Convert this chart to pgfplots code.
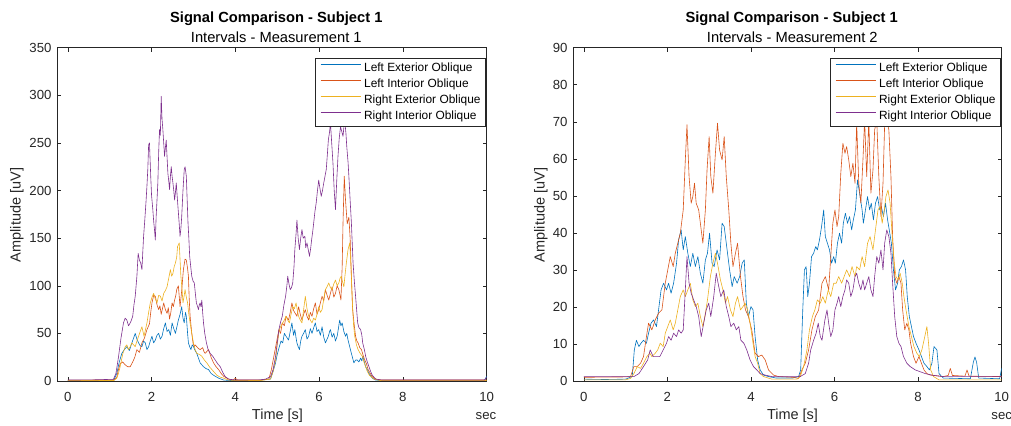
\documentclass[border=0pt]{standalone}
\usepackage{fontspec}
\setmainfont{Liberation Sans}
\usepackage{pgfplots}
\pgfplotsset{compat=1.18}

\definecolor{mblue}{rgb}{0,0.447,0.741}
\definecolor{morange}{rgb}{0.85,0.325,0.098}
\definecolor{myellow}{rgb}{0.929,0.694,0.125}
\definecolor{mpurple}{rgb}{0.494,0.184,0.556}
\definecolor{axgray}{rgb}{0.15,0.15,0.15}

\newcommand\tickfont{\fontsize{13.2bp}{15bp}\selectfont}
\newcommand\labfont{\fontsize{14.5bp}{17bp}\selectfont}
\newcommand\titfont{\fontsize{14.7bp}{17bp}\selectfont}

\pgfplotsset{
  matlab/.style={
    anchor=south west, scale only axis, height=333.3bp,
    xmin=-0.25, xmax=10, ymin=0,
    xtick={0,2,...,10},
    axis line style={axgray, line width=0.5bp},
    tick style={axgray, line width=0.5bp},
    major tick length=4bp,
    tick align=inside, tick pos=both,
    ticklabel style={font=\tickfont, text=axgray},
    /pgf/number format/assume math mode=true,
    xticklabel style={anchor=base, inner sep=0pt, yshift=-20.7bp},
    yticklabel style={anchor=east, inner sep=0pt, xshift=-5.6bp},
    every axis plot/.append style={line width=0.6bp, line join=round},
    legend style={at={(1,1)}, anchor=north east, xshift=-1.4bp, yshift=-10bp,
      draw=axgray, line width=0.5bp, fill=white, font=\fontsize{11.9bp}{13bp}\selectfont,
      inner xsep=4.5bp, inner ysep=4.4bp, row sep=4.5bp,
      nodes={inner sep=0pt, text height=9bp, text depth=2.5bp}},
    legend cell align=left,
    legend image code/.code={%
      \draw[#1, line width=1bp] (0bp,3.5bp) -- (40bp,3.5bp);
      \path (43.2bp,3.5bp);},
  }
}

\begin{document}
\begin{tikzpicture}
\path[use as bounding box] (0,0) rectangle (1011bp,426bp);

% ---------- Measurement 1 ----------
\begin{axis}[matlab, at={(57.3bp,45bp)}, width=429.4bp, ymax=350,
  ytick={0,50,...,350}]
\addplot[mblue] coordinates {
(0,0.5) (0.5,0.6) (1.0,0.5) (1.1,1) (1.17,8) (1.23,20) (1.29,29) (1.35,33) (1.41,36) (1.47,32) (1.53,40)
(1.57,45) (1.61,50) (1.65,44) (1.69,40) (1.73,37) (1.77,36) (1.81,42) (1.85,40) (1.89,33) (1.93,36)
(1.97,42) (2.01,47) (2.05,40) (2.09,43) (2.13,48) (2.17,50) (2.21,44) (2.25,47) (2.29,55) (2.33,61)
(2.37,52) (2.41,54) (2.45,48) (2.49,61) (2.53,55) (2.57,50) (2.61,58) (2.64,64) (2.68,70) (2.72,78)
(2.75,66) (2.78,61) (2.81,72) (2.83,68) (2.86,50) (2.88,40) (2.91,36) (2.94,33) (2.97,38) (3.00,36)
(3.04,32) (3.08,29) (3.12,24) (3.16,19) (3.20,17) (3.24,15) (3.30,13) (3.36,12) (3.42,8) (3.48,6)
(3.60,3) (3.72,1) (3.9,0.5) (4.5,0.5) (4.84,2) (4.90,10) (4.96,19) (5.00,28) (5.05,36) (5.09,42)
(5.13,40) (5.17,50) (5.21,47) (5.27,43) (5.31,52) (5.35,61) (5.39,48) (5.42,54) (5.45,45) (5.47,40)
(5.50,36) (5.53,33) (5.56,42) (5.59,47) (5.63,50) (5.67,54) (5.71,44) (5.75,47) (5.79,55) (5.83,50)
(5.87,56) (5.91,61) (5.95,52) (5.99,54) (6.03,48) (6.07,57) (6.11,46) (6.15,40) (6.19,44) (6.22,47)
(6.25,52) (6.27,54) (6.31,46) (6.35,50) (6.39,42) (6.43,47) (6.46,55) (6.49,64) (6.52,58) (6.55,61)
(6.59,52) (6.63,47) (6.66,50) (6.69,43) (6.73,36) (6.77,29) (6.80,24) (6.83,19) (6.87,22) (6.91,22)
(6.95,20) (6.99,24) (7.02,21) (7.04,26) (7.08,20) (7.11,15) (7.15,12) (7.19,8) (7.27,3) (7.35,1)
(7.5,0.5) (9.9,0.5) (9.95,1) (10,5)
};
\addlegendentry{Left Exterior Oblique}
\addplot[morange] coordinates {
(0,0.8) (0.6,1) (1.1,1) (1.17,4) (1.21,12) (1.25,18) (1.31,20) (1.37,17) (1.43,15) (1.49,15) (1.55,20)
(1.60,25) (1.65,33) (1.71,30) (1.77,40) (1.83,45) (1.89,54) (1.95,60) (1.98,72) (2.01,82) (2.05,90)
(2.09,89) (2.13,80) (2.17,75) (2.20,79) (2.23,70) (2.26,76) (2.29,82) (2.33,75) (2.37,71) (2.40,77)
(2.43,65) (2.46,72) (2.49,82) (2.52,78) (2.55,85) (2.58,90) (2.60,96) (2.64,100) (2.68,78) (2.72,95)
(2.76,117) (2.80,128) (2.83,127) (2.86,118) (2.88,110) (2.90,85) (2.92,68) (2.96,50) (2.99,40) (3.02,36)
(3.04,38) (3.08,36) (3.12,34) (3.16,33) (3.22,35) (3.25,31) (3.28,29) (3.32,31) (3.36,33) (3.39,29)
(3.42,25) (3.48,19) (3.54,15) (3.60,12) (3.66,8) (3.72,5) (3.84,2) (3.95,1) (4.0,3) (4.05,1) (4.6,1)
(4.80,2) (4.86,12) (4.92,26) (4.98,40) (5.04,54) (5.08,50) (5.12,61) (5.17,58) (5.21,68) (5.27,64)
(5.31,72) (5.35,82) (5.39,74) (5.43,71) (5.47,68) (5.51,78) (5.55,70) (5.59,64) (5.63,70) (5.67,75)
(5.71,68) (5.75,64) (5.79,72) (5.83,68) (5.87,76) (5.91,82) (5.95,70) (5.99,75) (6.03,82) (6.07,89)
(6.11,84) (6.15,96) (6.19,90) (6.23,85) (6.27,92) (6.31,99) (6.35,88) (6.39,92) (6.43,100) (6.47,96)
(6.50,90) (6.52,85) (6.55,120) (6.57,166) (6.60,215) (6.63,190) (6.67,165) (6.71,172) (6.74,150)
(6.77,110) (6.80,75) (6.84,58) (6.87,47) (6.90,42) (6.93,40) (6.97,35) (7.01,33) (7.05,27) (7.09,22)
(7.13,18) (7.17,12) (7.22,8) (7.27,4.5) (7.35,2) (7.5,1) (10,1)
};
\addlegendentry{Left Interior Oblique}
\addplot[myellow] coordinates {
(0,0.5) (1.1,0.5) (1.17,3) (1.21,8) (1.25,15) (1.31,28) (1.37,36) (1.41,38) (1.45,33) (1.49,36) (1.53,40)
(1.57,38) (1.61,36) (1.65,42) (1.69,47) (1.73,52) (1.77,57) (1.82,47) (1.86,55) (1.89,61) (1.93,72)
(1.97,82) (2.01,88) (2.05,92) (2.09,86) (2.13,82) (2.17,90) (2.21,89) (2.25,84) (2.29,92) (2.33,95)
(2.37,99) (2.41,108) (2.45,117) (2.48,110) (2.51,113) (2.54,120) (2.57,124) (2.60,130) (2.62,141)
(2.66,145) (2.70,110) (2.73,95) (2.75,82) (2.78,90) (2.80,96) (2.83,88) (2.86,82) (2.89,70) (2.92,61)
(2.96,50) (3.00,40) (3.04,33) (3.08,29) (3.14,28) (3.20,26) (3.26,22) (3.32,19) (3.38,15) (3.44,12)
(3.50,9) (3.56,6) (3.64,4) (3.72,3) (3.84,1) (4.0,0.5) (4.6,0.5) (4.84,2) (4.90,10) (4.96,22)
(5.00,38) (5.05,54) (5.09,58) (5.13,61) (5.17,64) (5.21,68) (5.25,64) (5.29,61) (5.33,70) (5.37,78)
(5.41,76) (5.45,82) (5.48,74) (5.51,68) (5.55,64) (5.59,61) (5.63,75) (5.67,89) (5.71,76) (5.75,68)
(5.79,64) (5.83,61) (5.87,66) (5.91,64) (5.95,70) (5.99,78) (6.03,72) (6.07,75) (6.11,86) (6.15,96)
(6.19,99) (6.23,103) (6.27,98) (6.31,96) (6.35,102) (6.39,106) (6.43,100) (6.47,103) (6.50,108)
(6.53,110) (6.56,104) (6.59,99) (6.62,112) (6.65,124) (6.69,138) (6.73,145) (6.76,120) (6.79,85)
(6.82,60) (6.85,47) (6.89,38) (6.93,33) (6.98,29) (7.03,26) (7.07,20) (7.11,15) (7.15,10) (7.20,6)
(7.31,2) (7.45,0.5) (10,0.5)
};
\addlegendentry{Right Exterior Oblique}
\addplot[mpurple] coordinates {
(0,1) (0.6,1.2) (1.09,1.8) (1.15,8) (1.21,25) (1.27,45) (1.33,61) (1.37,66) (1.41,64) (1.45,58) (1.49,61)
(1.52,64) (1.55,68) (1.58,80) (1.61,89) (1.65,110) (1.68,134) (1.71,127) (1.74,124) (1.77,117) (1.79,135)
(1.81,152) (1.84,170) (1.87,190) (1.89,205) (1.91,222) (1.93,248) (1.95,250) (1.98,215) (2.00,195)
(2.03,180) (2.05,168) (2.07,159) (2.09,148) (2.11,173) (2.13,190) (2.15,208) (2.17,240) (2.19,264)
(2.21,258) (2.23,299) (2.25,275) (2.27,264) (2.29,250) (2.31,236) (2.33,245) (2.35,253) (2.37,235)
(2.39,218) (2.41,210) (2.43,201) (2.45,215) (2.47,225) (2.49,215) (2.51,208) (2.53,200) (2.55,190)
(2.57,198) (2.59,208) (2.61,195) (2.63,183) (2.66,165) (2.68,152) (2.70,160) (2.72,173) (2.75,200)
(2.78,222) (2.80,225) (2.83,215) (2.85,190) (2.87,166) (2.89,150) (2.91,131) (2.94,118) (2.96,110)
(2.99,105) (3.02,103) (3.05,90) (3.07,82) (3.10,78) (3.12,75) (3.14,80) (3.16,82) (3.18,78) (3.20,85)
(3.22,72) (3.24,61) (3.27,50) (3.31,40) (3.35,33) (3.40,29) (3.46,26) (3.52,22) (3.58,18) (3.64,15)
(3.70,9) (3.76,4.5) (3.84,2) (4.0,1) (4.6,1.2) (4.72,2) (4.84,4.5) (4.90,12) (4.96,26) (5.00,40)
(5.04,54) (5.08,62) (5.12,68) (5.16,80) (5.20,89) (5.23,100) (5.25,110) (5.28,102) (5.31,96) (5.34,98)
(5.37,103) (5.40,120) (5.42,138) (5.45,155) (5.47,169) (5.50,150) (5.53,138) (5.56,150) (5.59,159)
(5.62,150) (5.66,152) (5.68,140) (5.71,145) (5.74,138) (5.77,131) (5.80,140) (5.82,148) (5.85,158)
(5.87,166) (5.90,178) (5.93,187) (5.96,200) (5.99,211) (6.02,202) (6.05,194) (6.08,200) (6.11,208)
(6.14,215) (6.17,222) (6.20,240) (6.22,253) (6.25,262) (6.27,271) (6.30,250) (6.33,229) (6.36,200)
(6.39,180) (6.42,210) (6.45,236) (6.48,255) (6.51,267) (6.54,262) (6.57,257) (6.59,266) (6.61,274)
(6.64,260) (6.66,246) (6.69,230) (6.71,215) (6.74,190) (6.77,166) (6.79,145) (6.81,124) (6.84,105)
(6.87,89) (6.90,72) (6.92,61) (6.95,56) (6.99,54) (7.02,48) (7.04,40) (7.08,33) (7.11,26) (7.15,20)
(7.19,15) (7.23,10) (7.27,6) (7.35,2) (7.5,1) (9.95,1) (10,4)
};
\addlegendentry{Right Interior Oblique}
\end{axis}

% ---------- Measurement 2 ----------
\begin{axis}[matlab, at={(573.3bp,45bp)}, width=428.4bp, ymax=90,
  ytick={0,10,...,90}]
\addplot[mblue] coordinates {
(0,0.5) (0.5,0.4) (1.0,0.5) (1.16,1.2) (1.21,8.4) (1.26,11) (1.32,9.3) (1.37,10.2) (1.43,11) (1.50,10.2)
(1.55,12.9) (1.61,15.6) (1.67,16.5) (1.74,14.7) (1.79,19.2) (1.85,24.6) (1.91,26.4) (1.98,24.6)
(2.03,26.4) (2.09,23.7) (2.15,26.4) (2.22,31.8) (2.27,38.1) (2.33,40.8) (2.38,35.4) (2.43,39)
(2.49,34.5) (2.55,30.9) (2.61,34.5) (2.67,30.9) (2.73,33.6) (2.79,29.1) (2.85,26.4) (2.91,32.7)
(2.96,34.5) (3.01,39.9) (3.07,31.8) (3.12,30.9) (3.19,35.4) (3.25,32.7) (3.31,42.6) (3.36,41.7)
(3.43,35.4) (3.49,30) (3.55,25.5) (3.60,28.2) (3.67,26.4) (3.73,28.2) (3.79,31.8) (3.84,32.7)
(3.89,21) (3.94,17.4) (4.00,20.1) (4.05,19.2) (4.10,12) (4.16,5.7) (4.22,3) (4.30,1.6) (4.42,1.2)
(4.6,0.8) (5.0,0.8) (5.14,1.2) (5.19,3) (5.24,19.2) (5.28,30) (5.32,30.9) (5.36,22.8) (5.40,26.4)
(5.45,33.6) (5.50,34.5) (5.55,36.3) (5.59,35.4) (5.64,38.1) (5.69,41.7) (5.74,46.2) (5.78,39)
(5.83,37.2) (5.88,35.4) (5.93,31.8) (5.98,33.6) (6.02,31.8) (6.07,37.2) (6.12,39.9) (6.17,37.2)
(6.21,42.6) (6.26,45.3) (6.31,42.6) (6.36,44.4) (6.41,40.8) (6.45,43.5) (6.50,46.2) (6.55,54.3)
(6.60,50.7) (6.66,46.2) (6.69,42.6) (6.74,46.2) (6.79,49.8) (6.84,46.2) (6.88,48) (6.93,43.5)
(6.98,48) (7.03,49.8) (7.08,46.2) (7.12,47.1) (7.17,44.4) (7.22,48) (7.27,43.5) (7.31,40.8)
(7.36,37.2) (7.41,30) (7.46,24.6) (7.51,26.4) (7.55,30) (7.60,30.9) (7.65,32.7) (7.70,30)
(7.74,22.8) (7.79,17.4) (7.84,14.7) (7.89,12) (7.95,10.2) (8.02,8.4) (8.08,6.6) (8.14,4.8)
(8.21,3.9) (8.27,3) (8.33,4.8) (8.38,9.3) (8.45,8.4) (8.50,2) (8.6,0.8) (9.25,0.6) (9.32,5)
(9.36,6.5) (9.40,5) (9.45,0.8) (9.95,0.6) (10,3.5)
};
\addlegendentry{Left Exterior Oblique}
\addplot[morange] coordinates {
(0,1) (1.0,1.1) (1.12,1.2) (1.20,3.9) (1.28,3.9) (1.36,4.8) (1.43,6.6) (1.50,12) (1.55,15.6)
(1.63,13.8) (1.71,16.5) (1.79,18.3) (1.87,19.2) (1.95,26.4) (2.01,30) (2.07,33.6) (2.14,30.9)
(2.19,34.5) (2.25,37.2) (2.31,39.9) (2.38,46.2) (2.43,59.7) (2.47,69.2) (2.52,55.2) (2.57,48)
(2.61,49.8) (2.65,53.4) (2.69,48) (2.75,46.2) (2.81,40.8) (2.85,37.2) (2.91,46.2) (2.95,57)
(3.00,66) (3.04,55.2) (3.09,50.7) (3.15,61.5) (3.20,69.6) (3.25,62.4) (3.31,59.7) (3.36,66)
(3.41,55.2) (3.47,46.2) (3.52,37.2) (3.57,30.9) (3.63,34.5) (3.68,37.2) (3.75,28.2) (3.81,22.8)
(3.87,19.2) (3.94,17.4) (4.02,13.8) (4.10,7.5) (4.18,6.6) (4.26,7) (4.34,5.7) (4.42,3) (4.54,1.6)
(4.66,1.2) (5.0,1) (5.14,0.7) (5.22,3) (5.30,4.8) (5.38,8.4) (5.46,13.8) (5.54,17.4) (5.62,19.2)
(5.70,26.4) (5.78,28.2) (5.86,24.6) (5.91,33.6) (5.96,42.6) (6.01,46.2) (6.06,41.7) (6.10,44.4)
(6.15,56.1) (6.20,64.2) (6.25,61.5) (6.29,63.3) (6.34,59.7) (6.39,55.2) (6.44,58.8) (6.49,53.4)
(6.53,69.6) (6.58,53.4) (6.63,48) (6.68,59.7) (6.72,70.5) (6.77,55.2) (6.82,70.5) (6.87,50.7)
(6.92,57) (6.96,67.8) (7.01,70.5) (7.06,55.2) (7.11,44.4) (7.16,53.4) (7.20,69.6) (7.25,70.5)
(7.30,67.8) (7.35,55.2) (7.39,39) (7.44,28.2) (7.49,26.4) (7.54,28.2) (7.59,26.4) (7.63,19.2)
(7.68,13.8) (7.73,15.6) (7.78,13.8) (7.82,10.2) (7.89,6.6) (7.95,4.8) (8.02,6.6) (8.08,4.8)
(8.14,3) (8.21,2) (8.29,1.6) (8.6,1.2) (8.72,1.5) (8.77,3.4) (8.82,1.5) (9.12,1.3) (9.17,3)
(9.22,1.3) (10,1.2)
};
\addlegendentry{Left Interior Oblique}
\addplot[myellow] coordinates {
(0,0.3) (1.0,0.3) (1.12,0.7) (1.20,2) (1.28,3.9) (1.36,3.4) (1.43,4.8) (1.51,6.6) (1.58,7.5)
(1.63,6.6) (1.71,7.5) (1.77,8.4) (1.83,10.2) (1.90,9.3) (1.95,12.9) (2.01,14.7) (2.07,16.5)
(2.14,13.8) (2.19,15.6) (2.25,19.2) (2.31,22.8) (2.38,24.6) (2.43,22.8) (2.49,24.6) (2.55,26.4)
(2.61,21.9) (2.67,20.1) (2.73,21) (2.79,17.4) (2.85,14.7) (2.91,18.3) (2.96,21.9) (3.03,28.2)
(3.09,31.8) (3.15,34.5) (3.20,31.8) (3.27,27.3) (3.33,24.6) (3.39,21) (3.44,22.8) (3.51,19.2)
(3.57,17.4) (3.63,21) (3.68,22.8) (3.75,19.2) (3.81,20.1) (3.86,21) (3.92,19.2) (3.98,15.6)
(4.05,10.2) (4.10,6.6) (4.16,4.8) (4.22,2) (4.30,1.2) (4.5,0.5) (5.1,0.5) (5.18,1.2) (5.26,3.9)
(5.34,8.4) (5.40,13.8) (5.47,17.4) (5.53,19.2) (5.59,21.9) (5.66,21) (5.72,22.8) (5.78,21)
(5.85,24.6) (5.91,22.8) (5.98,26.4) (6.04,26.4) (6.10,28.2) (6.17,26.4) (6.23,28.2) (6.29,30)
(6.36,28.2) (6.42,30.9) (6.49,28.2) (6.53,30.9) (6.60,30) (6.66,33.6) (6.72,30.9) (6.79,37.2)
(6.85,39) (6.92,35.4) (6.98,40.8) (7.04,46.2) (7.09,47.1) (7.14,42.6) (7.19,46.2) (7.23,49.8)
(7.28,51.6) (7.33,48) (7.38,39) (7.43,31.8) (7.47,28.2) (7.52,27.3) (7.57,29.1) (7.62,26.4)
(7.66,22.8) (7.71,19.2) (7.78,14.7) (7.84,12) (7.90,9.3) (7.97,7.5) (8.03,6.6) (8.09,8.4)
(8.16,12) (8.21,14.7) (8.25,10.2) (8.30,3) (8.37,1.2) (8.5,0.3) (10,0.3)
};
\addlegendentry{Right Exterior Oblique}
\addplot[mpurple] coordinates {
(0,1.2) (1.0,1.2) (1.20,1.2) (1.32,2) (1.43,3.9) (1.53,5.7) (1.59,8.4) (1.66,6.6) (1.74,6.6)
(1.82,6.6) (1.90,8.4) (1.98,10.2) (2.03,12) (2.09,11) (2.15,12.9) (2.22,12) (2.27,13.8) (2.33,12.9)
(2.38,13.8) (2.43,24.6) (2.47,33.6) (2.52,26.4) (2.57,23.7) (2.63,21.9) (2.69,20.1) (2.75,17.4)
(2.81,12) (2.87,15.6) (2.93,19.2) (2.99,21) (3.04,17.4) (3.11,22.8) (3.17,29.1) (3.23,25.5)
(3.28,22.8) (3.35,24.6) (3.41,20.1) (3.47,17.4) (3.52,14.7) (3.59,15.6) (3.65,13.8) (3.71,14.7)
(3.76,11) (3.83,10.2) (3.90,8.4) (3.98,5.7) (4.06,3.9) (4.14,3) (4.22,2) (4.34,1.6) (4.5,1.2)
(5.1,1.2) (5.18,1.2) (5.30,2) (5.38,4.8) (5.43,8.4) (5.50,11) (5.56,12.9) (5.61,15.6) (5.66,12)
(5.70,11) (5.77,16.5) (5.82,19.2) (5.86,15.6) (5.91,12) (5.96,13.8) (6.01,19.2) (6.06,21)
(6.10,22.8) (6.15,20.1) (6.20,22.8) (6.25,24.6) (6.29,27.3) (6.34,26.4) (6.39,22.8) (6.44,24.6)
(6.49,28.2) (6.53,29.1) (6.58,26.4) (6.63,24.6) (6.68,27.3) (6.72,24.6) (6.77,26.4) (6.82,28.2)
(6.87,24.6) (6.92,22.8) (6.96,28.2) (7.01,33.6) (7.06,31.8) (7.11,35.4) (7.16,30) (7.20,37.2)
(7.25,40.8) (7.30,39) (7.35,34.5) (7.39,26.4) (7.44,17.4) (7.49,12) (7.54,10.2) (7.59,9.3)
(7.65,6.6) (7.73,4.8) (7.81,3.9) (7.93,3) (8.05,2.5) (8.17,2) (8.37,1.5) (8.6,1.2) (10,1.2)
};
\addlegendentry{Right Interior Oblique}
\end{axis}

% titles and labels
\node[font=\titfont\bfseries, anchor=base] at (276.3bp,403.7bp) {Signal Comparison - Subject 1};
\node[font=\titfont, anchor=base] at (276.3bp,383.7bp) {Intervals - Measurement 1};
\node[font=\titfont\bfseries, anchor=base] at (791.7bp,403.7bp) {Signal Comparison - Subject 1};
\node[font=\titfont, anchor=base] at (792.3bp,383.7bp) {Intervals - Measurement 2};

\node[font=\labfont, text=axgray, rotate=90, anchor=base] at (20.5bp,211bp) {Amplitude [uV]};
\node[font=\labfont, text=axgray, rotate=90, anchor=base] at (544.5bp,211bp) {Amplitude [uV]};
\node[font=\labfont, text=axgray, anchor=base] at (277.5bp,6.7bp) {Time [s]};
\node[font=\labfont, text=axgray, anchor=base] at (792.5bp,6.7bp) {Time [s]};
\node[font=\tickfont, text=axgray, anchor=base] at (486bp,6.7bp) {sec};
\node[font=\tickfont, text=axgray, anchor=base] at (1001.7bp,6.7bp) {sec};
\end{tikzpicture}
\end{document}
